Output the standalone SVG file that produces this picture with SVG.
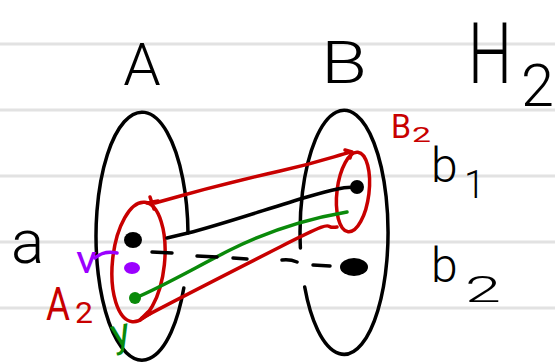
<svg xmlns="http://www.w3.org/2000/svg" width="555" height="362" viewBox="0 0 555 362">
<style>
  .rule { stroke: #e2e2e2; stroke-width: 3; }
  .blk { fill: none; stroke: #000; stroke-width: 3.5; stroke-linecap: round; stroke-linejoin: round; }
  .red { fill: none; stroke: #c80000; stroke-width: 3.5; stroke-linecap: round; stroke-linejoin: round; }
  .grn { fill: none; stroke: #0a8a0a; stroke-width: 3.5; stroke-linecap: round; stroke-linejoin: round; }
  .pur { fill: none; stroke: #9b00ff; stroke-width: 3.5; stroke-linecap: round; stroke-linejoin: round; }
  .lbl { font-family: Roboto, "Liberation Sans", sans-serif; font-weight: 300; }
  .sm { font-family: Roboto, "Liberation Sans", sans-serif; font-weight: 400; }
</style>
<rect width="555" height="362" fill="#fff"/>
<g id="ruled-lines">
  <line class="rule" x1="0" y1="44" x2="555" y2="44"/>
  <line class="rule" x1="0" y1="110" x2="555" y2="110"/>
  <line class="rule" x1="0" y1="176" x2="555" y2="176"/>
  <line class="rule" x1="0" y1="242" x2="555" y2="242"/>
  <line class="rule" x1="0" y1="308" x2="555" y2="308"/>
</g>
<g id="title-H2">
  <text class="lbl" x="468" y="83" font-size="86" fill="#000"><tspan textLength="44" lengthAdjust="spacingAndGlyphs">H</tspan><tspan x="521" y="106" font-size="60" textLength="33" lengthAdjust="spacingAndGlyphs">2</tspan></text>
</g>
<g id="set-A">
  <path class="blk" d="M183.8,288 A46,124 0 1 1 188,233"/>
  <text class="lbl" x="142" y="85" font-size="60" text-anchor="middle" fill="#000">A</text>
</g>
<g id="set-B">
  <path class="blk" d="M300.4,248 A44,122 0 1 1 304.7,287"/>
  <text class="lbl" x="321" y="83" font-size="60" fill="#000" textLength="46" lengthAdjust="spacingAndGlyphs">B</text>
</g>
<g id="subset-A2">
  <ellipse class="red" cx="138.5" cy="262" rx="26" ry="60" transform="rotate(6 138.5 262)"/>
  <text class="sm" x="46" y="320" font-size="46" fill="#c80000"><tspan textLength="24" lengthAdjust="spacingAndGlyphs">A</tspan><tspan x="75" y="323" font-size="29" textLength="18" lengthAdjust="spacingAndGlyphs">2</tspan></text>
</g>
<g id="subset-B2">
  <ellipse class="red" cx="353" cy="192" rx="16" ry="40" transform="rotate(7 353 192)"/>
  <text class="sm" x="391" y="138" font-size="33" fill="#c80000"><tspan textLength="20" lengthAdjust="spacingAndGlyphs">B</tspan><tspan x="412" y="142" font-size="21" textLength="19" lengthAdjust="spacingAndGlyphs">2</tspan></text>
</g>
<g id="connectors">
  <path class="red" d="M155,203 C190,193 240,180 280,171 S335,156 351,152"/>
  <path class="red" d="M150,197 L154,209 M147,203 L158,201"/>
  <path class="red" d="M345,150 L352,152 L350,158"/>
  <path class="blk" d="M167,238 L188,233 C220,225 270,208 307,197 S345,188 357,187"/>
  <path class="grn" d="M135,298 C160,288 200,265 230,250 S300,220 347,212"/>
  <path class="red" d="M142,318 C170,303 215,280 280,247 S320,230 337,227"/>
  <path class="red" d="M140,320 L148,312 M143,318 L151,313"/>
  <path class="blk" d="M152,252 L172,253 M197,256 L217,257 M233,258 L247,259 M282,260 Q290,259 297,262 M313,265 L330,266"/>
  <path class="pur" d="M95,258 Q104,250 117,253"/>
</g>
<g id="elem-a">
  <ellipse cx="133" cy="240" rx="9" ry="8" fill="#000"/>
  <text class="lbl" x="11" y="263" font-size="62" fill="#000">a</text>
</g>
<g id="elem-v">
  <ellipse cx="132" cy="268" rx="8" ry="6" fill="#9b00ff"/>
  <text class="sm" x="76" y="273" font-size="38" fill="#9b00ff" textLength="21" lengthAdjust="spacingAndGlyphs">v</text>
</g>
<g id="elem-y">
  <circle cx="135" cy="298" r="6" fill="#0a8a0a"/>
  <text class="sm" x="112" y="345" font-size="40" fill="#0a8a0a" transform="rotate(-12 126 338)">y</text>
</g>
<g id="elem-b1">
  <circle cx="357" cy="187" r="7" fill="#000"/>
  <text class="lbl" x="431" y="182" font-size="48" fill="#000">b<tspan x="464" y="198" font-size="38">1</tspan></text>
</g>
<g id="elem-b2">
  <ellipse cx="354" cy="267" rx="14" ry="9" fill="#000"/>
  <text class="lbl" x="431" y="282" font-size="48" fill="#000">b<tspan x="465" y="302" font-size="36" textLength="36" lengthAdjust="spacingAndGlyphs">2</tspan></text>
</g>
</svg>
